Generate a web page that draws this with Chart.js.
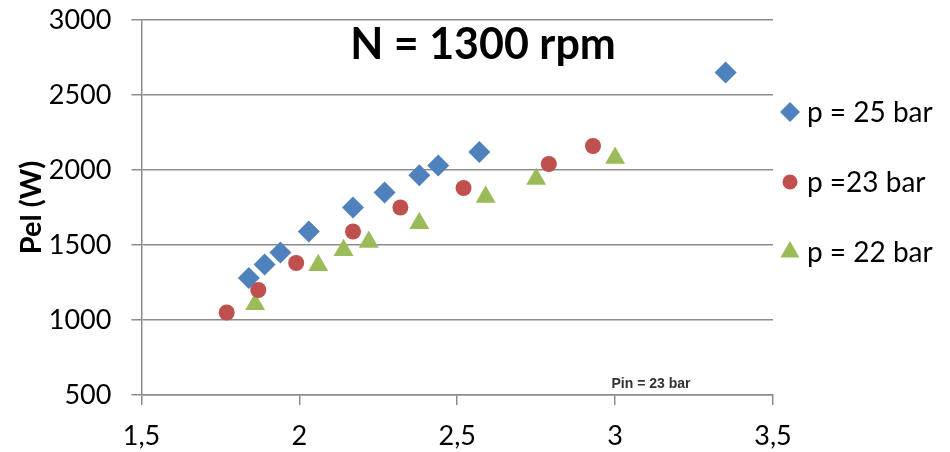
<!DOCTYPE html>
<html>
<head>
<meta charset="utf-8">
<title>Pel vs pressure ratio, N = 1300 rpm</title>
<script src="https://cdn.jsdelivr.net/npm/chart.js@4.4.1/dist/chart.umd.min.js"></script>
<style>
  html, body { margin: 0; padding: 0; background: #fff; }
  #wrap { width: 950px; height: 452px; }
</style>
</head>
<body>
<div id="wrap"><canvas id="c"></canvas></div>
<script>
// data
const seriesNames = ["p = 25 bar", "p =23 bar", "p = 22 bar"];

const x25 = [1.84, 1.89, 1.94, 2.03, 2.17, 2.27, 2.38, 2.44, 2.57, 3.35];
const pel25 = [1280, 1370, 1450, 1590, 1750, 1850, 1965, 2030, 2120, 2650];

const x23 = [1.77, 1.87, 1.99, 2.17, 2.32, 2.52, 2.79, 2.93];
const pel23 = [1050, 1200, 1380, 1590, 1750, 1880, 2040, 2160];

const x22 = [1.86, 2.06, 2.14, 2.22, 2.38, 2.59, 2.75, 3.0];
const pel22 = [1105, 1365, 1465, 1520, 1645, 1820, 1940, 2080];

const xTicks = [1.5, 2, 2.5, 3, 3.5];
const yTicks = [500, 1000, 1500, 2000, 2500, 3000];

const chartTitle = "N = 1300 rpm";
const yTitle = "Pel (W)";
const note = "Pin = 23 bar";

const BLUE = "#4F81BD", RED = "#C0504D", GREEN = "#9BBB59";
const FONT = "Lato, 'Open Sans', sans-serif";

function pts(xs, ys) {
  return xs.map((x, i) => ({ x: x, y: ys[i] }));
}

const styles = [
  { color: BLUE, pointStyle: "rectRot", radius: 11, legendRadius: 10 },
  { color: RED, pointStyle: "circle", radius: 8, legendRadius: 7.5 },
  { color: GREEN, pointStyle: "triangle", radius: 11.5, legendRadius: 11 }
];
const allData = [pts(x25, pel25), pts(x23, pel23), pts(x22, pel22)];

const datasets = allData.map((d, i) => ({
  label: seriesNames[i],
  data: d,
  showLine: false,
  pointStyle: styles[i].pointStyle,
  pointRadius: styles[i].radius,
  pointHoverRadius: styles[i].radius,
  pointBackgroundColor: styles[i].color,
  pointBorderColor: styles[i].color,
  pointBorderWidth: 0
}));

// title inside the plot, side legend and small note
const extras = {
  id: "extras",
  afterDraw(chart) {
    const ctx = chart.ctx;
    ctx.save();
    ctx.fillStyle = "#000";
    ctx.font = "bold 43px " + FONT;
    ctx.textAlign = "center";
    ctx.textBaseline = "alphabetic";
    ctx.fillText(chartTitle, 483, 59);

    ctx.font = "bold 14px 'Liberation Sans', Arial, sans-serif";
    ctx.fillStyle = "#333";
    ctx.textBaseline = "middle";
    ctx.fillText(note, 651, 384);

    // legend
    const legendY = [112, 182, 252];
    ctx.textAlign = "left";
    ctx.textBaseline = "alphabetic";
    ctx.font = "28px " + FONT;
    styles.forEach((s, i) => {
      const y = legendY[i];
      ctx.fillStyle = s.color;
      ctx.strokeStyle = s.color;
      if (Chart.helpers && Chart.helpers.drawPoint) {
        Chart.helpers.drawPoint(ctx, { pointStyle: s.pointStyle, radius: s.legendRadius, rotation: 0, borderWidth: 0 }, 790, y);
      }
      ctx.fillStyle = "#000";
      ctx.fillText(seriesNames[i], 807, y + 10);
    });
    ctx.restore();
  }
};

new Chart(document.getElementById("c"), {
  type: "scatter",
  data: { datasets: datasets },
  plugins: [extras],
  options: {
    responsive: true,
    maintainAspectRatio: false,
    animation: false,
    layout: { padding: { left: 9, right: 177, top: 20, bottom: 2 } },
    plugins: {
      legend: { display: false },
      tooltip: { enabled: false }
    },
    scales: {
      x: {
        type: "linear",
        min: 1.5,
        max: 3.5,
        afterBuildTicks(scale) { scale.ticks = xTicks.map(v => ({ value: v })); },
        // chart.js counts tick padding twice when sizing, take one back
        afterFit(scale) { scale.height -= scale.options.ticks.padding; },
        grid: { drawOnChartArea: false, drawTicks: true, tickLength: 10, color: "#8c8c8c", lineWidth: 1.5 },
        border: { display: true, color: "#8c8c8c", width: 1.5 },
        ticks: {
          color: "#000",
          padding: 18,
          maxRotation: 0,
          font: { family: FONT, size: 27, lineHeight: 1 },
          callback: v => String(v).replace(".", ",")
        }
      },
      y: {
        type: "linear",
        min: 500,
        max: 3000,
        afterBuildTicks(scale) { scale.ticks = yTicks.map(v => ({ value: v })); },
        afterFit(scale) {
          scale.width -= scale.options.ticks.padding;
          scale.paddingTop = 0;
          scale.paddingBottom = 0;
        },
        grid: { drawTicks: true, tickLength: 10, color: "#8c8c8c", lineWidth: 1.5 },
        border: { display: true, color: "#8c8c8c", width: 1.5 },
        ticks: {
          color: "#000",
          padding: 20,
          font: { family: FONT, size: 27 },
          callback: v => String(v)
        },
        title: {
          display: true,
          text: yTitle,
          color: "#000",
          padding: { top: 5, bottom: 0 },
          font: { family: FONT, size: 29, weight: "bold" }
        }
      }
    }
  }
});
</script>
</body>
</html>
